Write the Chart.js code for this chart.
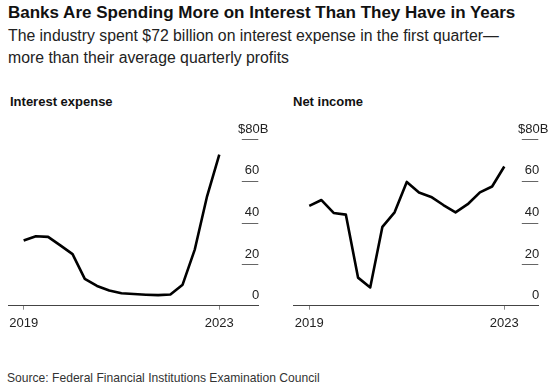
<!DOCTYPE html>
<html>
<head>
<meta charset="utf-8">
<script src="https://cdn.jsdelivr.net/npm/chart.js@4.4.1/dist/chart.umd.min.js"></script>
<style>
  body { margin: 0; width: 557px; height: 388px; background: #fff; position: relative; overflow: hidden;
         font-family: "Liberation Sans", Arial, sans-serif; color: #111; }
  .txt { position: absolute; white-space: nowrap; }
  #title { left: 8px; top: 3px; font-size: 17px; line-height: 20px; font-weight: bold; }
  #sub { left: 8px; top: 25px; font-size: 15.8px; line-height: 22px; color: #222; }
  .ptitle { top: 94px; font-size: 13px; line-height: 16px; font-weight: bold; }
  #source { left: 7px; top: 371px; font-size: 12.1px; line-height: 15px; color: #333; }
  .box { position: absolute; top: 110px; height: 240px; }
</style>
</head>
<body>
<div id="title" class="txt">Banks Are Spending More on Interest Than They Have in Years</div>
<div id="sub" class="txt">The industry spent $72 billion on interest expense in the first quarter—<br>more than their average quarterly profits</div>
<div class="txt ptitle" style="left:10px">Interest expense</div>
<div class="txt ptitle" style="left:293px">Net income</div>
<div class="box" style="left:0; width:280px"><canvas id="leftChart" width="280" height="240"></canvas></div>
<div class="box" style="left:280px; width:285px"><canvas id="rightChart" width="285" height="240"></canvas></div>
<div id="source" class="txt">Source: Federal Financial Institutions Examination Council</div>

<script>
// quarterly, Q1 2019 .. Q1 2023, billions of dollars
var quarters = ['2019 Q1', '2019 Q2', '2019 Q3', '2019 Q4',
                '2020 Q1', '2020 Q2', '2020 Q3', '2020 Q4',
                '2021 Q1', '2021 Q2', '2021 Q3', '2021 Q4',
                '2022 Q1', '2022 Q2', '2022 Q3', '2022 Q4',
                '2023 Q1'];
var interestExpense = [31.3, 33.4, 33.1, 29.0, 24.8, 12.9, 9.5, 7.3, 6.0, 5.6, 5.3, 5.1, 5.4, 10.1, 27.1, 52.6, 72.6];
var netIncome = [48.0, 50.8, 44.6, 43.8, 13.5, 8.8, 37.9, 44.9, 59.5, 54.4, 52.3, 48.4, 44.9, 48.8, 54.5, 57.3, 66.9];
var yTicks = [0, 20, 40, 60, 80];
var xTickIndex = [0, 16];

// short grey marks under each y label, at the right end of the plot
var ySegments = {
    id: 'ySegments',
    beforeDatasetsDraw: function(chart) {
        var ctx = chart.ctx;
        var y = chart.scales.y;
        var area = chart.chartArea;
        ctx.save();
        ctx.strokeStyle = '#666';
        ctx.lineWidth = 1;
        y.ticks.forEach(function(t) {
            if (t.value === 0) return;
            var py = Math.round(y.getPixelForValue(t.value)) + 0.5;
            ctx.beginPath();
            ctx.moveTo(area.right - 16.5, py);
            ctx.lineTo(area.right, py);
            ctx.stroke();
        });
        ctx.restore();
    }
};

function makeChart(id, name, values, xMin, xMax, pad) {
    var points = values.map(function(v, i) { return { x: i, y: v }; });
    return new Chart(document.getElementById(id), {
        type: 'line',
        data: {
            datasets: [{
                label: name,
                data: points,
                borderColor: '#000',
                borderWidth: 2.6,
                borderJoinStyle: 'round',
                pointRadius: 0,
                tension: 0,
                fill: false
            }]
        },
        options: {
            responsive: false,
            animation: false,
            devicePixelRatio: 1,
            layout: { padding: pad },
            plugins: { legend: { display: false }, tooltip: { enabled: false } },
            scales: {
                x: {
                    type: 'linear',
                    min: xMin,
                    max: xMax,
                    afterBuildTicks: function(s) {
                        s.ticks = xTickIndex.map(function(i) { return { value: i }; });
                    },
                    ticks: {
                        autoSkip: false,
                        maxRotation: 0,
                        padding: 6,
                        color: '#222',
                        font: { family: 'Liberation Sans', size: 13 },
                        callback: function(v) { return quarters[v].slice(0, 4); }
                    },
                    grid: { drawOnChartArea: false, drawTicks: true, tickLength: 4, color: '#888' },
                    border: { display: true, color: '#444', width: 1 }
                },
                y: {
                    position: 'right',
                    min: 0,
                    max: 80,
                    afterBuildTicks: function(s) {
                        s.ticks = yTicks.map(function(v) { return { value: v }; });
                    },
                    ticks: {
                        mirror: true,
                        padding: 10,
                        labelOffset: -10,
                        color: '#222',
                        font: { family: 'Liberation Sans', size: 13 },
                        callback: function(v) {
                            return v === 80 ? '$80B' : v + '\u2002\u2009';
                        }
                    },
                    grid: { display: false, drawTicks: false, tickLength: 0 },
                    border: { display: false }
                }
            }
        },
        plugins: [ySegments]
    });
}

// mirrored labels still reserve 2 x padding (20px) of axis width on the right
makeChart('leftChart', 'Interest expense', interestExpense, -1.28, 19.19,
          { left: 8, right: 1.7, top: 29.3, bottom: 12.7 });
makeChart('rightChart', 'Net income', netIncome, -1.31, 18.79,
          { left: 13.3, right: 6.7, top: 29.3, bottom: 12.7 });
</script>
</body>
</html>
